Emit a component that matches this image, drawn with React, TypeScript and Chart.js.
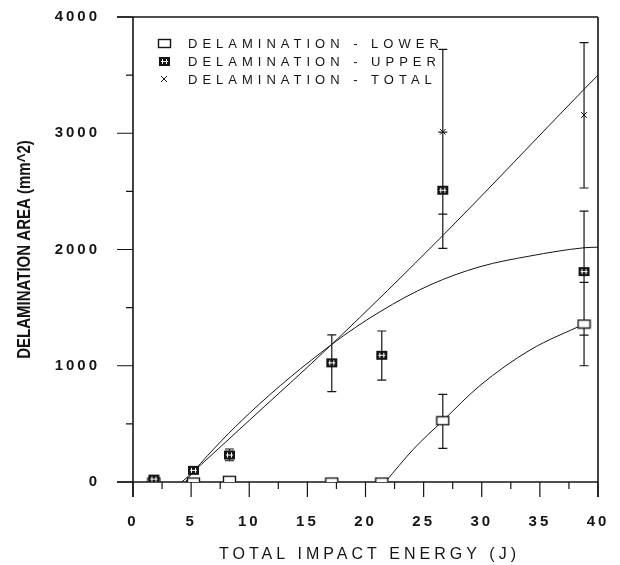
import React, { useEffect, useRef } from "react";
import { Chart, registerables } from "chart.js";

Chart.register(...registerables);

// ---------- data ----------
const energyJ = [1.8, 5.2, 8.3, 17.1, 21.4, 26.65, 38.8];
const lowerArea = [0, 0, 15, 0, 0, 527, 1359];
const upperArea = [25, 100, 232, 1025, 1090, 2510, 1810];
const totalArea = [25, 100, 247, 1025, 1090, 3013, 3157];

const lowerBarLow = [null, null, null, null, null, 290, 1000];
const lowerBarHigh = [null, null, null, null, null, 754, 1718];
const upperBarLow = [null, null, 183, 777, 877, 2010, 1264];
const upperBarHigh = [null, null, 284, 1265, 1299, 3010, 2330];
const totalBarLow = [null, null, null, null, null, 2305, 2529];
const totalBarHigh = [null, null, null, null, null, 3722, 3779];

const totalFitX = [4.2, 5.2, 10, 17.1, 26.7, 38.8, 40];
const totalFitY = [0, 90, 530, 1184, 2125, 3378, 3500];
const upperFitX = [4.5, 5.2, 10, 17.1, 21.25, 25.55, 29.85, 34.15, 38.8, 40];
const upperFitY = [0, 90, 590, 1184, 1465, 1695, 1852, 1944, 2015, 2020];
const lowerFitX = [21.7, 24.1, 26.65, 29.85, 34.15, 38.8];
const lowerFitY = [0, 280, 527, 830, 1135, 1359];

const xMajorTicks = [0, 5, 10, 15, 20, 25, 30, 35, 40];
const xMinorTicks = [2.5, 7.5, 12.5, 17.5, 22.5, 27.5, 32.5, 37.5];
const yMajorTicks = [0, 1000, 2000, 3000, 4000];
const yMinorTicks = [500, 1500, 2500, 3500];

const seriesLabels = [
  "DELAMINATION - LOWER",
  "DELAMINATION - UPPER",
  "DELAMINATION - TOTAL",
];
const xTitle = "TOTAL IMPACT ENERGY (J)";
const yTitle = "DELAMINATION AREA (mm^2)";

const INK = "#151515";
const SANS = "'Liberation Sans', Arial, Helvetica, sans-serif";

function pts(xs: number[], ys: (number | null)[]) {
  return xs.map((x, i) => ({ x, y: ys[i] as number }));
}

function makeOpenBox(): HTMLCanvasElement {
  const c = document.createElement("canvas");
  c.width = 15;
  c.height = 11;
  const g = c.getContext("2d")!;
  g.fillStyle = "#fff";
  g.fillRect(1, 1, 13, 9);
  g.strokeStyle = INK;
  g.lineWidth = 1.4;
  g.strokeRect(1.5, 1.5, 12, 8);
  return c;
}

function makeFilledBox(): HTMLCanvasElement {
  const c = document.createElement("canvas");
  c.width = 13;
  c.height = 11;
  const g = c.getContext("2d")!;
  g.fillStyle = INK;
  g.fillRect(1, 1, 11, 9);
  g.fillStyle = "#fff";
  g.fillRect(4, 3, 1, 5);
  g.fillRect(8, 3, 1, 5);
  g.fillRect(3, 5, 7, 1);
  return c;
}

const zeroPad = (s: any) => {
  s.paddingTop = 0;
  s.paddingBottom = 0;
  s.paddingLeft = 0;
  s.paddingRight = 0;
};

export default function App() {
  const ref = useRef<HTMLCanvasElement>(null);

  useEffect(() => {
    const canvas = ref.current!;
    const openBox = makeOpenBox();
    const filledBox = makeFilledBox();

    const errorSets = [
      { low: upperBarLow, high: upperBarHigh },
      { low: lowerBarLow, high: lowerBarHigh },
      { low: totalBarLow, high: totalBarHigh },
    ];

    const framePlugin = {
      id: "frame",
      beforeDraw(chart: any) {
        (chart.ctx as any).letterSpacing = "3px";
      },
      beforeDatasetsDraw(chart: any) {
        const ctx = chart.ctx as CanvasRenderingContext2D;
        const xs = chart.scales.x;
        const ys = chart.scales.y;
        const { left, right, top, bottom } = chart.chartArea;
        ctx.save();
        ctx.strokeStyle = INK;
        ctx.lineWidth = 1.6;
        ctx.beginPath();
        ctx.moveTo(left - 16, top);
        ctx.lineTo(right, top);
        ctx.moveTo(left - 16, bottom);
        ctx.lineTo(right, bottom);
        ctx.moveTo(left, top);
        ctx.lineTo(left, bottom + 15);
        ctx.moveTo(right, top);
        ctx.lineTo(right, bottom + 15);
        ctx.stroke();
        ctx.lineWidth = 1.2;
        ctx.beginPath();
        yMajorTicks.forEach((v) => {
          const p = ys.getPixelForValue(v);
          ctx.moveTo(left - 16, p);
          ctx.lineTo(left, p);
        });
        yMinorTicks.forEach((v) => {
          const p = ys.getPixelForValue(v);
          ctx.moveTo(left - 7, p);
          ctx.lineTo(left, p);
        });
        xMajorTicks.forEach((v) => {
          const p = xs.getPixelForValue(v);
          ctx.moveTo(p, bottom);
          ctx.lineTo(p, bottom + 15);
        });
        xMinorTicks.forEach((v) => {
          const p = xs.getPixelForValue(v);
          ctx.moveTo(p, bottom);
          ctx.lineTo(p, bottom + 7);
        });
        ctx.stroke();

        // error bars
        ctx.lineWidth = 1.2;
        ctx.beginPath();
        errorSets.forEach((s) => {
          energyJ.forEach((e, i) => {
            const lo = s.low[i];
            const hi = s.high[i];
            if (lo == null || hi == null) return;
            const px = xs.getPixelForValue(e);
            const pl = ys.getPixelForValue(lo);
            const ph = ys.getPixelForValue(hi);
            ctx.moveTo(px, pl);
            ctx.lineTo(px, ph);
            ctx.moveTo(px - 4.5, pl);
            ctx.lineTo(px + 4.5, pl);
            ctx.moveTo(px - 4.5, ph);
            ctx.lineTo(px + 4.5, ph);
          });
        });
        ctx.stroke();
        ctx.restore();
      },
      afterDraw(chart: any) {
        const ctx = chart.ctx as any;
        const { left, right, top, bottom } = chart.chartArea;
        ctx.save();
        ctx.fillStyle = INK;
        // legend
        const imgs: any[] = [openBox, filledBox, null];
        ctx.letterSpacing = "5px";
        ctx.font = `13px ${SANS}`;
        ctx.textBaseline = "middle";
        ctx.textAlign = "left";
        seriesLabels.forEach((lab, i) => {
          const y = top + 26 + i * 18;
          const mx = left + 31;
          if (imgs[i]) {
            const im = imgs[i];
            ctx.drawImage(im, Math.round(mx - im.width / 2), Math.round(y - im.height / 2));
          } else {
            ctx.strokeStyle = INK;
            ctx.lineWidth = 1;
            ctx.beginPath();
            ctx.moveTo(mx - 3, y - 3);
            ctx.lineTo(mx + 3, y + 3);
            ctx.moveTo(mx + 3, y - 3);
            ctx.lineTo(mx - 3, y + 3);
            ctx.stroke();
          }
          ctx.fillText(lab, left + 55, y + 1);
        });
        // x title
        ctx.letterSpacing = "4px";
        ctx.font = `16px ${SANS}`;
        ctx.textAlign = "center";
        ctx.fillText(xTitle, (left + right) / 2 + 4, 555);
        // y title (condensed)
        ctx.letterSpacing = "0px";
        ctx.font = `bold 19px ${SANS}`;
        ctx.translate(25, (top + bottom) / 2);
        ctx.rotate(-Math.PI / 2);
        ctx.scale(0.79, 1);
        ctx.fillText(yTitle, 0, 0);
        ctx.restore();
      },
    };

    const chart = new Chart(canvas, {
      type: "scatter",
      data: {
        datasets: [
          {
            label: seriesLabels[1],
            data: pts(energyJ, upperArea),
            pointStyle: filledBox as any,
            pointRadius: 6,
            showLine: false,
          },
          {
            label: seriesLabels[0],
            data: pts(energyJ, lowerArea),
            pointStyle: openBox as any,
            pointRadius: 6,
            showLine: false,
          },
          {
            label: seriesLabels[2],
            data: pts(energyJ, totalArea),
            pointStyle: "crossRot",
            pointRadius: 4,
            borderColor: INK,
            borderWidth: 1,
            showLine: false,
          },
          {
            label: "total fit",
            data: pts(totalFitX, totalFitY),
            showLine: true,
            pointRadius: 0,
            borderColor: INK,
            borderWidth: 1,
            cubicInterpolationMode: "monotone",
          },
          {
            label: "upper fit",
            data: pts(upperFitX, upperFitY),
            showLine: true,
            pointRadius: 0,
            borderColor: INK,
            borderWidth: 1,
            cubicInterpolationMode: "monotone",
          },
          {
            label: "lower fit",
            data: pts(lowerFitX, lowerFitY),
            showLine: true,
            pointRadius: 0,
            borderColor: INK,
            borderWidth: 1,
            cubicInterpolationMode: "monotone",
          },
        ],
      },
      options: {
        animation: false,
        responsive: false,
        devicePixelRatio: 1,
        layout: { padding: { left: 0, right: 22, top: 17, bottom: 0 } },
        plugins: {
          legend: { display: false },
          tooltip: { enabled: false },
        },
        scales: {
          x: {
            type: "linear",
            min: 0,
            max: 40,
            afterBuildTicks: (s: any) => {
              s.ticks = xMajorTicks.map((v) => ({ value: v }));
            },
            afterFit: (s: any) => {
              s.height = 83;
              zeroPad(s);
            },
            ticks: {
              padding: 31,
              color: INK,
              font: { family: SANS, size: 15, weight: "bold" },
              maxRotation: 0,
              autoSkip: false,
              callback: (v: any) => String(v),
            },
            grid: { display: false, drawTicks: false },
            border: { display: false },
          },
          y: {
            type: "linear",
            min: 0,
            max: 4000,
            afterBuildTicks: (s: any) => {
              s.ticks = yMajorTicks.map((v) => ({ value: v }));
            },
            afterFit: (s: any) => {
              s.width = 133;
              zeroPad(s);
            },
            ticks: {
              padding: 33,
              color: INK,
              font: { family: SANS, size: 15, weight: "bold" },
              autoSkip: false,
              callback: (v: any) => String(v),
            },
            grid: { display: false, drawTicks: false },
            border: { display: false },
          },
        },
      },
      plugins: [framePlugin],
    });

    return () => chart.destroy();
  }, []);

  return (
    <div
      style={{
        position: "fixed",
        left: 0,
        top: 0,
        width: 620,
        height: 565,
        background: "#fff",
      }}
    >
      <canvas
        ref={ref}
        width={620}
        height={565}
        style={{ display: "block", width: 620, height: 565 }}
      />
    </div>
  );
}
